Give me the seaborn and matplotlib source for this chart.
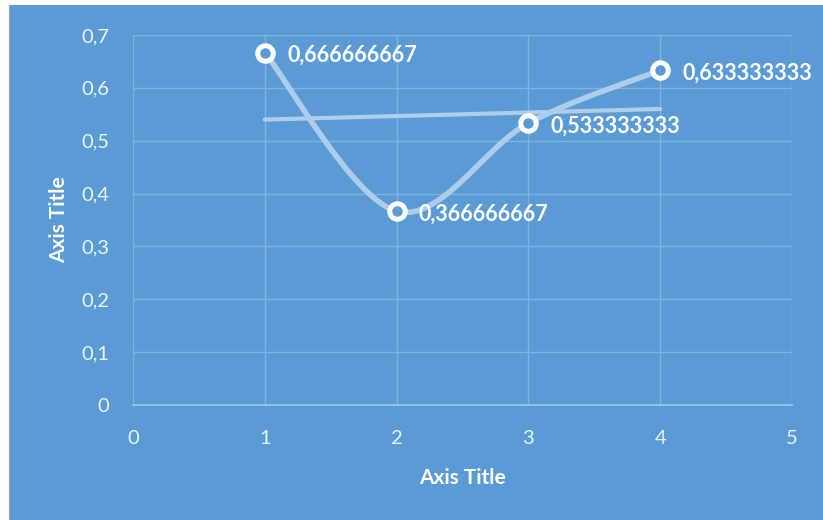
import matplotlib
matplotlib.use("Agg")
import matplotlib.pyplot as plt
from matplotlib.path import Path
from matplotlib.patches import PathPatch, Rectangle
from matplotlib.ticker import FuncFormatter
import numpy as np
import pandas as pd
import seaborn as sns

# Series values
x_vals = [1, 2, 3, 4]
y_vals = [0.666666667, 0.366666667, 0.533333333, 0.633333333]
x_ticks = [0, 1, 2, 3, 4, 5]
y_ticks = [0, 0.1, 0.2, 0.3, 0.4, 0.5, 0.6, 0.7]
x_title = "Axis Title"
y_title = "Axis Title"

BG = "#5B9BD5"
LINE = "#ADCDEA"
GRID = "#80B3E0"
AXIS_LINE = "#9CC3E6"
TICK_COLOR = "#EDF2F8"

sns.set_theme(style="white")
plt.rcParams["font.family"] = ["Lato", "DejaVu Sans"]

df = pd.DataFrame({"x": x_vals, "y": y_vals})

fig = plt.figure(figsize=(8.23, 5.20), dpi=100, facecolor="white")
# chart area panel
fig.patches.append(Rectangle((9 / 823, 0), 1 - 9 / 823, 1 - 5 / 520,
                             transform=fig.transFigure, facecolor=BG,
                             edgecolor="none", zorder=-2))
fig.add_artist(plt.Line2D([8.5 / 823, 8.5 / 823], [0, 1 - 5 / 520],
                          transform=fig.transFigure, color="#A0A0A0", lw=0.8,
                          zorder=-1))

ax = fig.add_axes([133 / 823, 1 - 405 / 520, (792 - 133) / 823, (405 - 35) / 520])
ax.set_zorder(2)
ax.set_facecolor(BG)

# smoothed series line (cubic Bezier segments through the points)
pts = np.column_stack([x_vals, y_vals])
ext = np.vstack([pts[0], pts, pts[-1]])
verts = [tuple(pts[0])]
codes = [Path.MOVETO]
for i in range(len(pts) - 1):
    p0, p1, p2, p3 = ext[i], ext[i + 1], ext[i + 2], ext[i + 3]
    c1 = p1 + (p2 - p0) / 6.0
    c2 = p2 - (p3 - p1) / 6.0
    verts += [tuple(c1), tuple(c2), tuple(p2)]
    codes += [Path.CURVE4] * 3
ax.add_patch(PathPatch(Path(verts, codes), facecolor="none", edgecolor=LINE,
                       lw=4.0, capstyle="round", zorder=3))

# linear trendline
sns.regplot(data=df, x="x", y="y", scatter=False, ci=None, truncate=True,
            ax=ax, line_kws=dict(color=LINE, lw=3.0, solid_capstyle="round", zorder=2))

# markers
sns.scatterplot(data=df, x="x", y="y", ax=ax, s=125, color=BG,
                edgecolor="white", linewidth=3.6, zorder=5)

# data labels
for xv, yv in zip(x_vals, y_vals):
    ax.annotate(f"{yv:.9f}".replace(".", ","), (xv, yv), xytext=(16, -2),
                textcoords="offset points", ha="left", va="center",
                color="white", fontsize=15.5, fontweight="bold", zorder=6)

ax.set_xlim(0, 5)
ax.set_ylim(0, 0.7)
ax.set_xticks(x_ticks)
ax.set_yticks(y_ticks)
ax.xaxis.set_major_formatter(FuncFormatter(lambda v, p: f"{v:g}"))
ax.yaxis.set_major_formatter(FuncFormatter(lambda v, p: f"{v:.1f}".replace(".", ",") if v else "0"))
ax.grid(True, color=GRID, lw=1.0, alpha=1.0)
ax.set_axisbelow(True)
for side in ["top", "right", "left"]:
    ax.spines[side].set_visible(False)
ax.spines["bottom"].set_color(AXIS_LINE)
ax.spines["bottom"].set_linewidth(1.3)
ax.tick_params(axis="both", length=0, labelsize=14.5, labelcolor=TICK_COLOR)
ax.tick_params(axis="y", pad=17)
ax.tick_params(axis="x", pad=18)

ax.set_xlabel(x_title, color="white", fontsize=15, fontweight="bold", labelpad=15)
ax.set_ylabel(y_title, color="white", fontsize=15, fontweight="bold", labelpad=9)

fig.savefig("out.png", dpi=100, facecolor=fig.get_facecolor())
